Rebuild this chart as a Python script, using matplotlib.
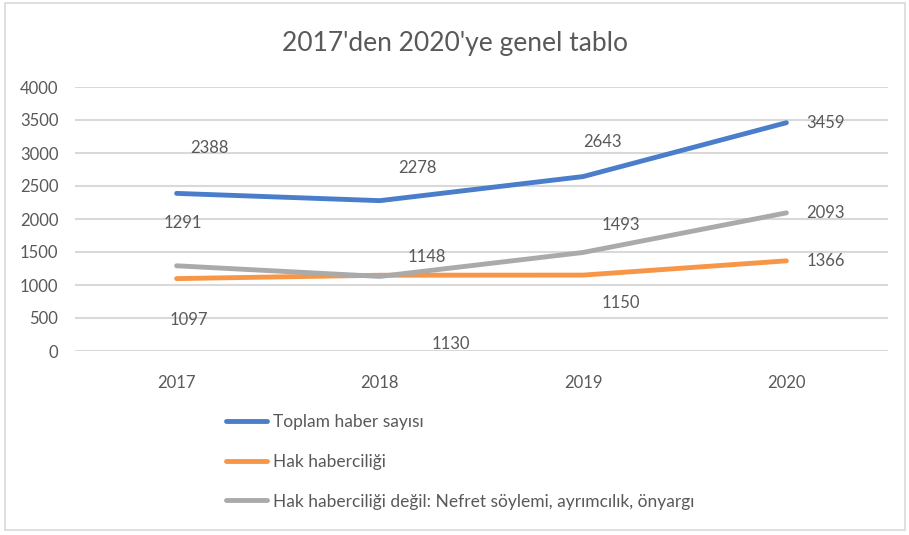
#!/usr/bin/env python3
import matplotlib

matplotlib.use("Agg")
import matplotlib.pyplot as plt
from matplotlib.patches import Rectangle

years = ["2017", "2018", "2019", "2020"]
toplam = [2388, 2278, 2643, 3459]
hak = [1097, 1148, 1150, 1366]
hak_degil = [1291, 1130, 1493, 2093]

series_names = [
    "Toplam haber sayısı",
    "Hak haberciliği",
    "Hak haberciliği değil: Nefret söylemi, ayrımcılık, önyargı",
]
colors = ["#4A7ECB", "#F79646", "#AAAAAA"]

# label offsets in pixels (Excel put them in odd places)
label_offsets = [
    [(33, 45), (38, 33), (19, 35), (39, 0)],
    [(12, -41), (47, 18), (38, -28), (39, 0)],
    [(6, 43), (71, -68), (38, 27), (39, 0)],
]

plt.rcParams["font.family"] = ["Lato", "DejaVu Sans"]
text_color = "#595959"

fig = plt.figure(figsize=(9.09, 5.35), dpi=100)
ax = fig.add_axes([75 / 909, 1 - 351 / 535, 813 / 909, 264 / 535])

x = range(len(years))
for values, name, color, offs in zip([toplam, hak, hak_degil], series_names, colors, label_offsets):
    ax.plot(x, values, color=color, linewidth=3.5, label=name, solid_capstyle="round")
    for xi, v, off in zip(x, values, offs):
        ax.annotate(str(v), (xi, v), xytext=off, textcoords="offset pixels",
                    ha="center", va="center", fontsize=12, color=text_color)

ax.set_xlim(-0.5, 3.5)
ax.set_ylim(0, 4000)
ax.set_yticks(range(0, 4001, 500))
ax.set_xticks(list(x))
ax.set_xticklabels(years)
ax.grid(axis="y", color="#D9D9D9", linewidth=1.5)
ax.set_axisbelow(True)
for spine in ax.spines.values():
    spine.set_visible(False)
ax.tick_params(length=0, labelsize=12, colors=text_color)
ax.tick_params(axis="x", pad=17)
ax.tick_params(axis="y", pad=12)

fig.text(0.5, 1 - 43 / 535, "2017'den 2020'ye genel tablo", ha="center", va="center",
         fontsize=19, color=text_color)

handles, labels = ax.get_legend_handles_labels()
leg = fig.legend(handles, labels, loc="upper left", bbox_to_anchor=(219 / 909, 1 - 407 / 535),
                 frameon=False, fontsize=12.5, handlelength=2.35, handletextpad=0.35,
                 labelspacing=1.37, borderaxespad=0)
for t in leg.get_texts():
    t.set_color(text_color)

fig.patches.append(Rectangle((5 / 909, 5 / 535), 900 / 909, 527 / 535, transform=fig.transFigure,
                             fill=False, edgecolor="#D9D9D9", linewidth=1.2))

fig.savefig("out.png", dpi=100)
